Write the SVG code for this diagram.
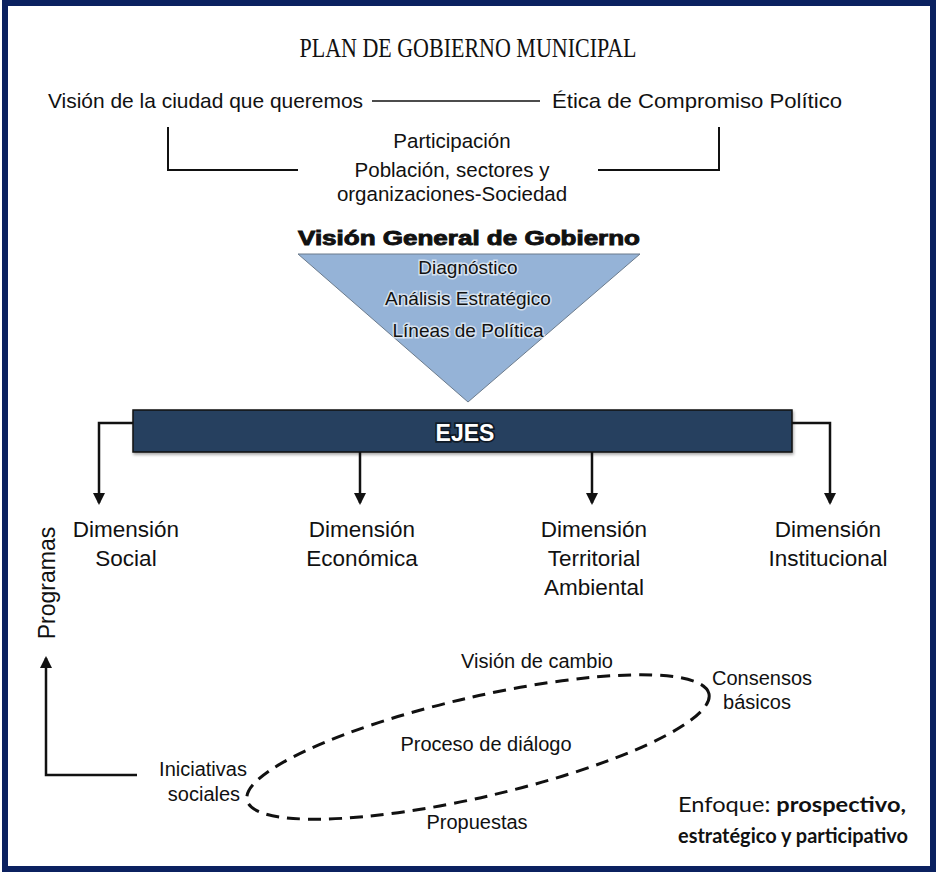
<svg xmlns="http://www.w3.org/2000/svg" width="936" height="872" viewBox="0 0 936 872">
<style>
.sans{font-family:"Liberation Sans",Arial,sans-serif;fill:#111}
.ln{stroke:#111;fill:none}
.arr{stroke:#111;stroke-width:2.5;fill:none;marker-end:url(#ah)}
.tri{font-family:"Liberation Sans",Arial,sans-serif;font-size:19px;fill:#111;stroke:#fff;stroke-width:3;stroke-opacity:0.6;paint-order:stroke;text-anchor:middle}
.dim{font-family:"Liberation Sans",Arial,sans-serif;font-size:22.5px;fill:#111;text-anchor:middle}
.low{font-family:"Liberation Sans",Arial,sans-serif;font-size:20px;fill:#111;text-anchor:middle}
</style>
<defs>
<marker id="ah" markerWidth="12" markerHeight="12" refX="10" refY="6" orient="auto" markerUnits="userSpaceOnUse">
<path d="M0,0 L12,6 L0,12 Z" fill="#111"/>
</marker>
<filter id="sh" x="-5%" y="-30%" width="110%" height="160%">
<feDropShadow dx="1" dy="2" stdDeviation="1.5" flood-color="#000" flood-opacity="0.35"/>
</filter>
</defs>
<rect x="0" y="0" width="936" height="872" fill="#fff"/>
<rect id="frame" x="5" y="3" width="928" height="866" fill="none" stroke="#0b2160" stroke-width="6"/>

<g id="title">
<text x="468" y="57" font-family="'Liberation Serif','Times New Roman',serif" font-size="27" fill="#111" text-anchor="middle" textLength="337" lengthAdjust="spacingAndGlyphs">PLAN DE GOBIERNO MUNICIPAL</text>
</g>
<g id="vision-ciudad"><text class="sans" x="48" y="108" font-size="21" textLength="315" lengthAdjust="spacingAndGlyphs">Visión de la ciudad que queremos</text></g>
<g id="etica"><text class="sans" x="552" y="108" font-size="21" textLength="290" lengthAdjust="spacingAndGlyphs">Ética de Compromiso Político</text></g>
<g id="participacion">
<text class="sans" x="452" y="148" font-size="20.5" text-anchor="middle">Participación</text>
<text class="sans" x="452" y="177" font-size="20.5" text-anchor="middle">Población, sectores y</text>
<text class="sans" x="452" y="201" font-size="20.5" text-anchor="middle">organizaciones-Sociedad</text>
</g>
<g id="vision-general">
<text class="sans" x="469" y="245" font-size="20" font-weight="bold" text-anchor="middle" textLength="342" lengthAdjust="spacingAndGlyphs" stroke="#111" stroke-width="0.9">Visión General de Gobierno</text>
<polygon points="298,254 640,254 468,402" fill="#95b3d7" stroke="#6b7b8c" stroke-width="1"/>
<text class="tri" x="468" y="274">Diagnóstico</text>
<text class="tri" x="468" y="305">Análisis Estratégico</text>
<text class="tri" x="468" y="337">Líneas de Política</text>
</g>
<g id="ejes">
<rect x="133" y="410" width="659" height="42" fill="#263f5f" stroke="#111" stroke-width="1.5" filter="url(#sh)"/>
<text x="465" y="441" font-family="'Liberation Sans',Arial,sans-serif" font-size="23" font-weight="bold" fill="#fff" stroke="#000" stroke-width="3.5" stroke-opacity="0.6" paint-order="stroke" text-anchor="middle">EJES</text>
</g>
<g id="connectors">
<line class="ln" x1="372" y1="101" x2="540" y2="101" stroke-width="1.5"/>
<polyline class="ln" points="168,127 168,170 298,170" stroke-width="2"/>
<polyline class="ln" points="598,170 719,170 719,127" stroke-width="2"/>
<polyline class="arr" points="133,423 99,423 99,503"/>
<polyline class="arr" points="792,423 830,423 830,503"/>
<line class="arr" x1="360" y1="452" x2="360" y2="503"/>
<line class="arr" x1="592" y1="452" x2="592" y2="503"/>
<polyline class="arr" points="137,775 46,775 46,658"/>
<ellipse cx="478" cy="747" rx="237" ry="50" transform="rotate(-13 478 747)" fill="none" stroke="#111" stroke-width="3" stroke-dasharray="13 8"/>
</g>
<g id="dim-social"><text class="dim" x="126" y="537">Dimensión</text><text class="dim" x="126" y="566">Social</text></g>
<g id="dim-economica"><text class="dim" x="362" y="537">Dimensión</text><text class="dim" x="362" y="566">Económica</text></g>
<g id="dim-territorial"><text class="dim" x="594" y="537">Dimensión</text><text class="dim" x="594" y="566">Territorial</text><text class="dim" x="594" y="595">Ambiental</text></g>
<g id="dim-institucional"><text class="dim" x="828" y="537">Dimensión</text><text class="dim" x="828" y="566">Institucional</text></g>
<g id="programas"><text class="sans" x="0" y="0" font-size="23" text-anchor="middle" transform="translate(55,583) rotate(-90)">Programas</text></g>
<g id="vision-cambio"><text class="low" x="537" y="668">Visión de cambio</text></g>
<g id="consensos"><text class="low" x="762" y="685">Consensos</text><text class="low" x="757" y="709">básicos</text></g>
<g id="dialogo"><text class="low" x="486" y="751">Proceso de diálogo</text></g>
<g id="iniciativas"><text class="low" x="203" y="776">Iniciativas</text><text class="low" x="204" y="801">sociales</text></g>
<g id="propuestas"><text class="low" x="477" y="829">Propuestas</text></g>
<g id="enfoque">
<text x="678" y="812" font-family="Lato,'Open Sans',sans-serif" font-size="21" fill="#111" textLength="228" lengthAdjust="spacingAndGlyphs">Enfoque: <tspan font-weight="bold">prospectivo,</tspan></text>
<text x="678" y="843" font-family="Lato,'Open Sans',sans-serif" font-size="20.5" font-weight="bold" fill="#111" textLength="230" lengthAdjust="spacingAndGlyphs">estratégico y participativo</text>
</g>
</svg>
